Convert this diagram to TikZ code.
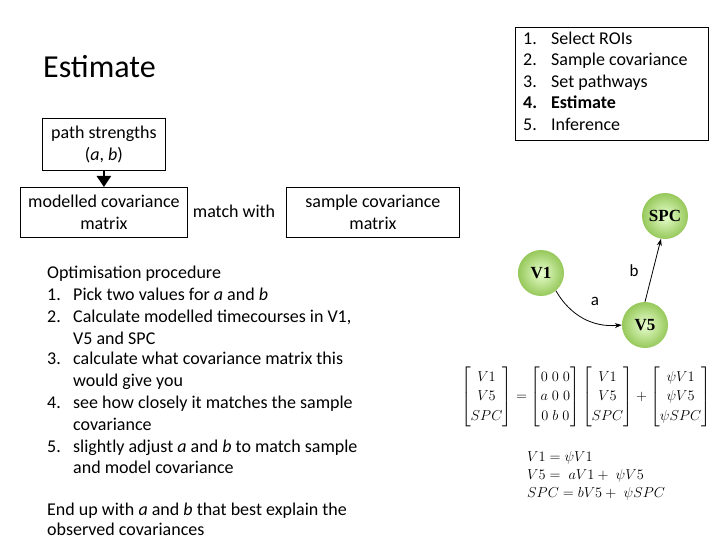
\documentclass[tikz,border=0pt]{standalone}
\usepackage{amsmath}
\usepackage{fontspec}
\setmainfont{Carlito}
\newfontfamily\serifbold{Liberation Serif}
\usetikzlibrary{arrows.meta,calc}
\tikzset{
  box/.style={draw=black,line width=0.8pt,inner sep=0pt,align=center,font=\fontsize{18}{22}\selectfont},
  txt/.style={inner sep=0pt,anchor=base west,font=\fontsize{18}{22}\selectfont},
  roi/.style={circle,minimum size=46pt,inner sep=0pt,inner color=green!10!white!90!yellow,outer color={rgb,255:red,150;green,200;blue,90},font=\serifbold\bfseries\fontsize{17}{17}\selectfont},
  conn/.style={-{Stealth[length=7pt,width=5pt]},line width=0.8pt},
  lbl/.style={inner sep=0pt,font=\fontsize{17}{17}\selectfont}
}
\begin{document}
\begin{tikzpicture}[x=1pt,y=-1pt]
\useasboundingbox (0,0) rectangle (720,540);
% title
\node[anchor=base west,inner sep=0pt,font=\fontsize{32}{32}\selectfont] (title) at (43,78) {Estimate};
% step list
\node[draw=black,line width=0.8pt,minimum width=193pt,minimum height=113pt,anchor=north west] (steps) at (515,27) {};
\foreach \n/\t/\y in {1/Select ROIs/39,2/Sample covariance/60,3/Set pathways/82,4/\textbf{Estimate}/103,5/Inference/125}{
  \node[txt] (sn\n) at (523,\y+6) {\ifnum\n=4 \textbf{\n.}\else\n.\fi};
  \node[txt] (st\n) at (551,\y+6) {\t};
}
% flow boxes
\node[box,minimum width=123pt,minimum height=52pt,anchor=north west] (ps) at (42,118) {path strengths\\(\textit{a}, \textit{b})};
\node[box,minimum width=167pt,minimum height=50pt,anchor=north west] (mc) at (20,187) {modelled covariance\\matrix};
\node[box,minimum width=173pt,minimum height=50pt,anchor=north west] (sc) at (286,187) {sample covariance\\matrix};
\node[txt,anchor=base] (mw) at (234,218) {match with};
\draw[line width=2.4pt,-{Triangle[length=11pt,width=14pt]}] (ps.south) -- (mc.north);
% optimisation procedure
\node[txt] (op) at (47,278) {Optimisation procedure};
\foreach \n/\y in {1/294,2/316,3/358,4/402,5/446}{
  \node[txt] (on\n) at (47,\y+6) {\n.};
}
\foreach \k/\t/\y in {a/{Pick two values for \textit{a} and \textit{b}}/294,
  b/{Calculate modelled timecourses in V1,}/316,
  c/{V5 and SPC}/338,
  d/{calculate what covariance matrix this}/358,
  e/{would give you}/380,
  f/{see how closely it matches the sample}/402,
  g/{covariance}/424,
  h/{slightly adjust \textit{a} and \textit{b} to match sample}/446,
  i/{and model covariance}/467}{
  \node[txt] (ot\k) at (73,\y+6) {\t};
}
\node[txt] (end1) at (47,515) {End up with \textit{a} and \textit{b} that best explain the};
\node[txt] (end2) at (47,535) {observed covariances};
% graph
\node[roi] (v1) at (541,273) {V1};
\node[roi] (spc) at (665,216) {SPC};
\node[roi] (v5) at (645,325) {V5};
\draw[conn] (v1.-50) to[out=-60,in=185] (v5.west);
\node[lbl] (la) at (595,301) {a};
\draw[conn] (v5.north) -- (spc.-100);
\node[lbl] (lb) at (634,271) {b};
% equations
\node[inner sep=0pt,font=\fontsize{15}{18}\selectfont] (mat) at (586,397) {\renewcommand{\arraystretch}{1.08}$\begin{bmatrix}V1\\V5\\SPC\end{bmatrix}=\begin{bmatrix}0\;0\;0\\a\;0\;0\\0\;b\;0\end{bmatrix}\begin{bmatrix}V1\\V5\\SPC\end{bmatrix}+\begin{bmatrix}\psi V1\\\psi V5\\\psi SPC\end{bmatrix}$};
\node[inner sep=0pt,anchor=base west,font=\fontsize{15}{18}\selectfont] (eq1) at (527,461) {$V1=\psi V1$};
\node[inner sep=0pt,anchor=base west,font=\fontsize{15}{18}\selectfont] (eq2) at (527,479) {$V5=\;aV1+\;\psi V5$};
\node[inner sep=0pt,anchor=base west,font=\fontsize{15}{18}\selectfont] (eq3) at (527,497) {$SPC=bV5+\;\psi SPC$};
\end{tikzpicture}
\end{document}
